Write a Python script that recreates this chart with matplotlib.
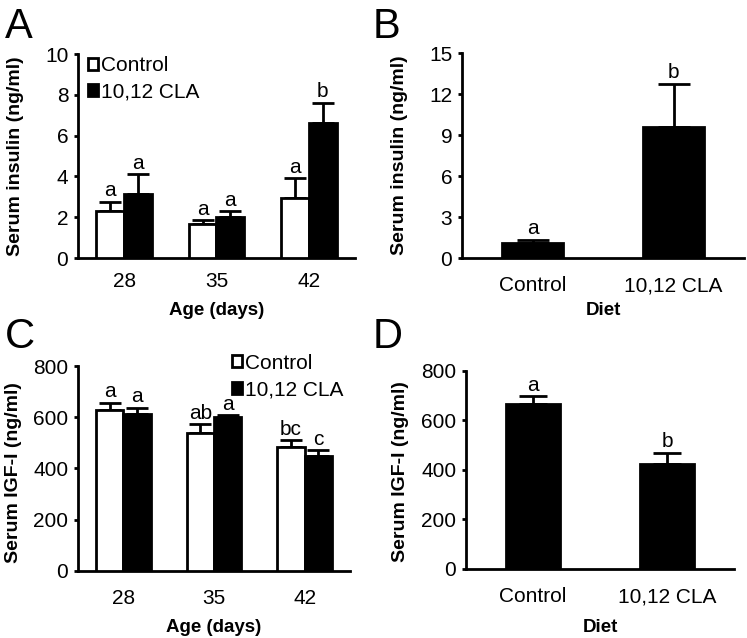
import numpy as np
import matplotlib
matplotlib.use("Agg")
import matplotlib.pyplot as plt
from matplotlib.patches import Patch

plt.rcParams['font.family'] = ['Liberation Sans', 'DejaVu Sans']

# ---- data ----
ages = ['28', '35', '42']
diets = ['Control', '10,12 CLA']

# A: serum insulin by age
ins_ctrl = [2.3, 1.65, 2.95]
ins_ctrl_se = [0.45, 0.2, 0.95]
ins_cla = [3.15, 2.0, 6.6]
ins_cla_se = [0.95, 0.3, 1.0]
ins_ctrl_sig = ['a', 'a', 'a']
ins_cla_sig = ['a', 'a', 'b']

# B: serum insulin by diet
diet_ins = [1.1, 9.6]
diet_ins_se = [0.25, 3.15]
diet_ins_sig = ['a', 'b']

# C: serum IGF-I by age
igf_ctrl = [628, 537, 484]
igf_ctrl_se = [29, 35, 25]
igf_cla = [613, 600, 448]
igf_cla_se = [24, 8, 22]
igf_ctrl_sig = ['a', 'ab', 'bc']
igf_cla_sig = ['a', 'a', 'c']

# D: serum IGF-I by diet
diet_igf = [665, 424]
diet_igf_se = [32, 44]
diet_igf_sig = ['a', 'b']

LW = 2.0
FS = 15


def bars(ax, x, vals, se, sig, color, width):
    ax.bar(x, vals, width, color=color, edgecolor='black', linewidth=LW, zorder=3)
    ax.errorbar(x, vals, yerr=[np.zeros(len(vals)), se], fmt='none',
                ecolor='black', elinewidth=LW, capsize=width * 26, capthick=LW, zorder=2)
    for xi, v, e, s in zip(x, vals, se, sig):
        ax.annotate(s, (xi, v + e), xytext=(0, 4), textcoords='offset points',
                    ha='center', va='baseline', fontsize=FS)


def style(ax, ymax, step, xlabel, ylabel, xpad, ylab_xy, xlab_y):
    ax.set_ylim(0, ymax)
    ax.set_yticks(np.arange(0, ymax + step / 2, step))
    for s in ['top', 'right']:
        ax.spines[s].set_visible(False)
    for s in ['left', 'bottom']:
        ax.spines[s].set_linewidth(LW)
    ax.tick_params(axis='y', length=3, width=LW, pad=4, labelsize=FS)
    ax.tick_params(axis='x', length=0, pad=xpad, labelsize=FS)
    ax.set_ylabel(ylabel, fontsize=14, fontweight='bold', va='center')
    ax.set_xlabel(xlabel, fontsize=13.5, fontweight='bold', va='center')
    ax.yaxis.set_label_coords(*ylab_xy)
    ax.xaxis.set_label_coords(0.5, xlab_y)


fig = plt.figure(figsize=(7.47, 6.38), dpi=100)

axA = fig.add_axes([0.1044, 0.5956, 0.3708, 0.3197])
axB = fig.add_axes([0.6185, 0.5956, 0.3775, 0.3213])
axC = fig.add_axes([0.1044, 0.1055, 0.3641, 0.3208])
axD = fig.add_axes([0.6238, 0.1082, 0.3588, 0.3108])

w = 0.3
xg = np.arange(len(ages))

# A
bars(axA, xg - w / 2, ins_ctrl, ins_ctrl_se, ins_ctrl_sig, 'white', w)
bars(axA, xg + w / 2, ins_cla, ins_cla_se, ins_cla_sig, 'black', w)
axA.set_xticks(xg)
axA.set_xticklabels(ages)
axA.set_xlim(-0.5, 2.5)
style(axA, 10, 2, 'Age (days)', 'Serum insulin (ng/ml)', 10, (-0.227, 0.5), -0.258)

# B
xd = np.arange(len(diets))
bars(axB, xd, diet_ins, diet_ins_se, diet_ins_sig, 'black', 0.43)
axB.set_xticks(xd)
axB.set_xticklabels(diets)
axB.set_xlim(-0.5, 1.5)
style(axB, 15, 3, 'Diet', 'Serum insulin (ng/ml)', 13, (-0.22, 0.5), -0.258)

# C
bars(axC, xg - w / 2, igf_ctrl, igf_ctrl_se, igf_ctrl_sig, 'white', w)
bars(axC, xg + w / 2, igf_cla, igf_cla_se, igf_cla_sig, 'black', w)
axC.set_xticks(xg)
axC.set_xticklabels(ages)
axC.set_xlim(-0.5, 2.5)
style(axC, 800, 200, 'Age (days)', 'Serum IGF-I (ng/ml)', 13, (-0.237, 0.48), -0.278)

# D
bars(axD, xd, diet_igf, diet_igf_se, diet_igf_sig, 'black', 0.4)
axD.set_xticks(xd)
axD.set_xticklabels(diets)
axD.set_xlim(-0.5, 1.5)
style(axD, 800, 200, 'Diet', 'Serum IGF-I (ng/ml)', 13, (-0.246, 0.49), -0.295)

# legends
handles = [Patch(facecolor='white', edgecolor='black', linewidth=LW, label='Control'),
           Patch(facecolor='black', edgecolor='black', linewidth=LW, label='10,12 CLA')]
for ax, anchor in [(axA, (0.02, 1.01)), (axC, (0.55, 1.08))]:
    ax.legend(handles=handles, loc='upper left', bbox_to_anchor=anchor, frameon=False,
              fontsize=FS, handlelength=0.5, handleheight=0.5, handletextpad=0.12,
              labelspacing=0.35, borderpad=0.2, borderaxespad=0)

# panel letters
for lbl, x, y in [('A', 0.006, 0.9404), ('B', 0.499, 0.9404),
                  ('C', 0.006, 0.4545), ('D', 0.499, 0.4545)]:
    fig.text(x, y, lbl, fontsize=30, ha='left', va='baseline')

fig.savefig('out.png', dpi=100)
